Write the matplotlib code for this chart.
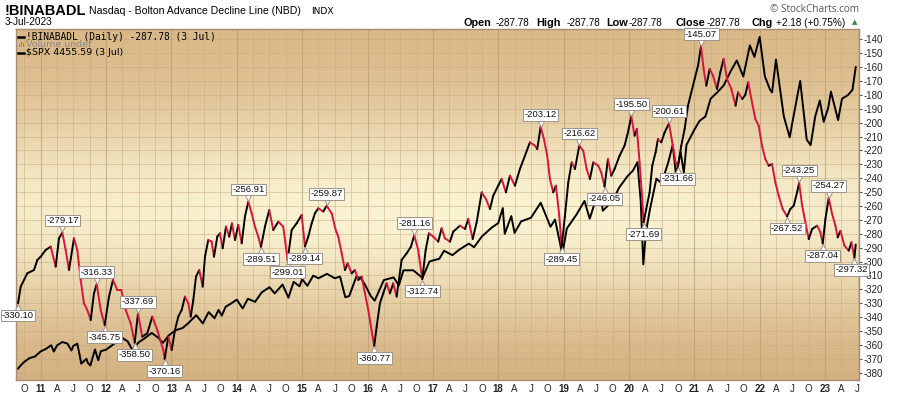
import matplotlib
matplotlib.use('Agg')
import matplotlib.pyplot as plt
import matplotlib.transforms as mtransforms
from matplotlib.collections import LineCollection
from matplotlib.lines import Line2D
from matplotlib.patches import Rectangle
import numpy as np

plt.rcParams['axes.unicode_minus'] = False

# Nasdaq A/D line (fractional year)
ad_dates = [
    2010.653, 2010.694, 2010.795, 2010.898, 2010.948, 2011.000, 2011.076, 2011.153, 2011.229, 2011.280,
    2011.331, 2011.382, 2011.433, 2011.509, 2011.560, 2011.612, 2011.662, 2011.713, 2011.765, 2011.815,
    2011.857, 2011.918, 2011.979, 2012.045, 2012.106, 2012.172, 2012.233, 2012.300, 2012.377, 2012.438,
    2012.488, 2012.554, 2012.631, 2012.707, 2012.784, 2012.827, 2012.876, 2012.897, 2012.952, 2013.004,
    2013.054, 2013.105, 2013.157, 2013.207, 2013.258, 2013.295, 2013.335, 2013.376, 2013.426, 2013.478,
    2013.513, 2013.564, 2013.616, 2013.651, 2013.702, 2013.743, 2013.784, 2013.835, 2013.885, 2013.926,
    2013.972, 2014.023, 2014.075, 2014.125, 2014.176, 2014.228, 2014.278, 2014.329, 2014.370, 2014.431,
    2014.497, 2014.558, 2014.635, 2014.711, 2014.778, 2014.840, 2014.916, 2014.993, 2015.043, 2015.094,
    2015.146, 2015.196, 2015.247, 2015.323, 2015.375, 2015.452, 2015.513, 2015.553, 2015.605, 2015.655,
    2015.696, 2015.758, 2015.808, 2015.859, 2015.911, 2015.961, 2016.012, 2016.053, 2016.103, 2016.140,
    2016.190, 2016.241, 2016.293, 2016.343, 2016.394, 2016.446, 2016.522, 2016.599, 2016.665, 2016.715,
    2016.776, 2016.838, 2016.890, 2016.940, 2017.006, 2017.082, 2017.134, 2017.185, 2017.262, 2017.312,
    2017.415, 2017.491, 2017.542, 2017.609, 2017.670, 2017.747, 2017.813, 2017.874, 2017.924, 2018.000,
    2018.052, 2018.118, 2018.179, 2018.256, 2018.332, 2018.409, 2018.485, 2018.562, 2018.597, 2018.649,
    2018.699, 2018.750, 2018.791, 2018.842, 2018.883, 2018.934, 2018.971, 2019.021, 2019.072, 2019.124,
    2019.174, 2019.240, 2019.301, 2019.353, 2019.403, 2019.454, 2019.530, 2019.576, 2019.627, 2019.679,
    2019.729, 2019.780, 2019.857, 2019.933, 2019.985, 2020.036, 2020.086, 2020.122, 2020.163, 2020.204,
    2020.224, 2020.265, 2020.316, 2020.357, 2020.408, 2020.444, 2020.495, 2020.546, 2020.613, 2020.663,
    2020.714, 2020.750, 2020.801, 2020.852, 2020.904, 2020.954, 2021.005, 2021.057, 2021.103, 2021.143,
    2021.184, 2021.235, 2021.286, 2021.347, 2021.398, 2021.449, 2021.501, 2021.567, 2021.632, 2021.669,
    2021.735, 2021.780, 2021.825, 2021.883, 2021.934, 2021.985, 2022.036, 2022.087, 2022.138, 2022.190,
    2022.240, 2022.291, 2022.352, 2022.420, 2022.470, 2022.521, 2022.573, 2022.604, 2022.650, 2022.700,
    2022.751, 2022.803, 2022.879, 2022.930, 2022.965, 2023.006, 2023.057, 2023.109, 2023.159, 2023.194,
    2023.236, 2023.297, 2023.363, 2023.404, 2023.450, 2023.470,
]
ad_values = [
    -330.10, -318.1, -308.5, -306.1, -298.9, -296.5, -291.7, -289.3, -303.7, -283.3,
    -279.17, -291.7, -306.1, -283.3, -291.7, -313.3, -330.1, -334.9, -342.1, -322.9,
    -316.33, -334.9, -345.75, -325.3, -313.3, -320.5, -320.5, -334.9, -344.5, -358.50,
    -337.69, -354.1, -351.7, -339.7, -349.3, -356.5, -363.7, -370.16, -354.1, -363.7,
    -349.3, -339.7, -334.9, -325.3, -330.1, -339.7, -327.7, -310.9, -306.1, -318.1,
    -296.5, -284.5, -285.7, -296.5, -282.1, -279.7, -290.5, -274.9, -282.1, -272.5,
    -284.5, -273.7, -286.9, -267.7, -256.91, -265.3, -274.9, -282.1, -289.51, -274.9,
    -262.9, -277.3, -271.3, -274.9, -299.01, -277.3, -272.5, -266.5, -289.14, -282.1,
    -272.5, -265.3, -261.7, -264.0, -259.87, -265.3, -277.3, -282.1, -294.1, -306.1,
    -301.3, -308.5, -306.1, -313.3, -310.9, -322.9, -334.9, -346.9, -360.77, -346.9,
    -330.1, -322.9, -315.7, -322.9, -315.7, -325.3, -298.9, -294.1, -289.3, -281.16,
    -291.7, -312.74, -291.7, -279.7, -282.1, -285.7, -276.1, -283.3, -285.7, -278.5,
    -274.2, -276.6, -269.4, -283.8, -271.8, -250.2, -255.0, -262.2, -252.6, -245.4,
    -240.6, -250.2, -238.2, -245.4, -233.4, -223.8, -214.2, -216.6, -219.0, -203.12,
    -211.8, -223.8, -240.6, -250.2, -245.4, -267.0, -289.45, -267.0, -243.0, -228.6,
    -233.4, -216.62, -220.2, -233.4, -240.6, -228.6, -231.0, -235.8, -246.05, -226.2,
    -238.2, -233.4, -223.8, -216.6, -207.0, -195.50, -209.4, -204.6, -228.6, -255.0,
    -271.69, -262.2, -250.2, -231.0, -221.4, -211.8, -214.2, -207.0, -200.61, -214.2,
    -228.6, -231.66, -216.6, -204.6, -187.8, -178.2, -168.6, -159.0, -145.07, -161.4,
    -173.4, -161.4, -166.2, -175.8, -163.8, -154.2, -168.6, -175.8, -187.8, -178.2,
    -183.0, -180.0, -171.0, -185.4, -197.4, -202.2, -216.6, -226.2, -231.0, -229.8,
    -243.0, -252.6, -262.2, -267.52, -262.2, -259.8, -250.2, -243.25, -259.8, -271.8,
    -283.8, -276.6, -274.2, -279.0, -287.04, -269.4, -254.27, -265.8, -274.2, -282.6,
    -278.0, -288.6, -292.2, -286.2, -297.32, -287.78,
]

# S&P 500 overlay
spx_dates = [
    2010.653, 2010.700, 2010.750, 2010.830, 2010.910, 2011.000, 2011.080, 2011.160, 2011.200, 2011.250,
    2011.330, 2011.410, 2011.470, 2011.500, 2011.560, 2011.600, 2011.620, 2011.700, 2011.720, 2011.760,
    2011.830, 2011.880, 2011.920, 2012.000, 2012.080, 2012.170, 2012.250, 2012.330, 2012.400, 2012.500,
    2012.580, 2012.700, 2012.800, 2012.870, 2012.950, 2013.000, 2013.080, 2013.170, 2013.250, 2013.380,
    2013.480, 2013.570, 2013.660, 2013.720, 2013.770, 2013.830, 2013.920, 2014.000, 2014.090, 2014.170,
    2014.280, 2014.380, 2014.500, 2014.580, 2014.700, 2014.790, 2014.870, 2014.960, 2015.000, 2015.080,
    2015.170, 2015.250, 2015.380, 2015.500, 2015.580, 2015.660, 2015.720, 2015.830, 2015.900, 2015.960,
    2016.050, 2016.110, 2016.250, 2016.400, 2016.480, 2016.550, 2016.700, 2016.840, 2016.950, 2017.100,
    2017.170, 2017.300, 2017.400, 2017.550, 2017.630, 2017.750, 2017.900, 2018.000, 2018.070, 2018.100,
    2018.200, 2018.250, 2018.350, 2018.500, 2018.650, 2018.800, 2018.870, 2018.980, 2019.050, 2019.200,
    2019.320, 2019.400, 2019.500, 2019.570, 2019.600, 2019.750, 2019.850, 2019.980, 2020.060, 2020.130,
    2020.180, 2020.220, 2020.260, 2020.320, 2020.420, 2020.500, 2020.600, 2020.670, 2020.720, 2020.790,
    2020.840, 2020.880, 2021.000, 2021.080, 2021.170, 2021.250, 2021.350, 2021.450, 2021.550, 2021.650,
    2021.750, 2021.850, 2021.920, 2022.000, 2022.080, 2022.160, 2022.190, 2022.250, 2022.370, 2022.460,
    2022.500, 2022.620, 2022.720, 2022.780, 2022.850, 2022.920, 2022.980, 2023.050, 2023.090, 2023.200,
    2023.260, 2023.350, 2023.420, 2023.470,
]
spx_values = [
    1064, 1105, 1141, 1183, 1199, 1258, 1286, 1327, 1256, 1325,
    1363, 1345, 1268, 1320, 1345, 1200, 1120, 1175, 1130, 1099,
    1280, 1158, 1260, 1277, 1320, 1370, 1410, 1370, 1278, 1360,
    1400, 1465, 1410, 1353, 1430, 1462, 1500, 1520, 1570, 1665,
    1573, 1700, 1630, 1725, 1660, 1760, 1800, 1840, 1741, 1850,
    1815, 1920, 1980, 1910, 2010, 1862, 2040, 1990, 2070, 1995,
    2110, 2080, 2130, 2080, 2100, 1867, 1880, 2100, 2080, 2010,
    1880, 1829, 2060, 2090, 2000, 2170, 2170, 2085, 2270, 2300,
    2390, 2340, 2400, 2470, 2430, 2550, 2650, 2700, 2870, 2580,
    2780, 2590, 2720, 2760, 2930, 2660, 2740, 2351, 2640, 2800,
    2950, 2750, 2980, 3020, 2840, 2950, 3100, 3230, 3290, 3386,
    2950, 2237, 2600, 2850, 3200, 3150, 3380, 3580, 3240, 3500,
    3270, 3580, 3750, 3850, 3900, 4100, 4170, 4250, 4400, 4530,
    4350, 4700, 4570, 4796, 4350, 4200, 4170, 4540, 3900, 3666,
    3830, 4300, 3640, 3577, 3900, 4080, 3840, 4000, 4180, 3860,
    4100, 4140, 4200, 4455,
]

# labelled highs / lows
label_dates = [2010.653, 2011.331, 2011.857, 2011.979, 2012.438, 2012.488, 2012.897, 2014.176, 2014.370,
               2014.778, 2015.043, 2015.375, 2016.103, 2016.715, 2016.838, 2018.649, 2018.971, 2019.240,
               2019.627, 2020.036, 2020.224, 2020.613, 2020.750, 2021.103, 2022.420, 2022.604, 2022.965,
               2023.057, 2023.450]
label_values = [-330.10, -279.17, -316.33, -345.75, -358.50, -337.69, -370.16, -256.91, -289.51,
                -299.01, -289.14, -259.87, -360.77, -281.16, -312.74, -203.12, -289.45, -216.62,
                -246.05, -195.50, -271.69, -200.61, -231.66, -145.07, -267.52, -243.25, -287.04,
                -254.27, -297.32]
label_kinds = ['lo', 'hi', 'hi', 'lo', 'lo', 'hi', 'lo', 'hi', 'lo',
               'lo', 'lo', 'hi', 'lo', 'hi', 'lo', 'hi', 'lo', 'hi',
               'lo', 'hi', 'lo', 'hi', 'lo', 'hi', 'lo', 'hi', 'lo',
               'hi', 'lo']

years = list(range(2011, 2024))
year_labels = [f"{y % 100:02d}" for y in years]
quarter_ticks = []
quarter_labels = []
for y in range(2010, 2024):
    for off, lab in [(0.25, 'A'), (0.5, 'J'), (0.75, 'O')]:
        if 2010.62 < y + off < 2023.53:
            quarter_ticks.append(y + off)
            quarter_labels.append(lab)

W, H = 900, 396
fig = plt.figure(figsize=(W / 100, H / 100), dpi=100)
fig.patch.set_facecolor('white')

left, right, top, bottom = 16, 859, 29, 380
pos = [left / W, 1 - bottom / H, (right - left) / W, (bottom - top) / H]

ax_bg = fig.add_axes(pos)
ax_spx = fig.add_axes(pos, sharex=ax_bg)
ax = fig.add_axes(pos, sharex=ax_bg, sharey=ax_bg)
ax_spx.patch.set_visible(False)
ax.patch.set_visible(False)

ax_bg.set_xlim(2010.622, 2023.52)
ax_bg.set_ylim(-385.3, -132.6)

# background gradient (tan edges, pale centre)
t = np.linspace(0, 1, 300)[:, None]
s = np.linspace(0, 1, 300)[None, :]
p = np.exp(-((t - 0.52) / 0.3) ** 2) * (0.82 + 0.18 * np.exp(-((s - 0.5) / 0.5) ** 2))
tan_top = np.array([216, 182, 132]) / 255
tan_bot = np.array([210, 172, 122]) / 255
pale = np.array([250, 243, 210]) / 255
tan = tan_top * (1 - t[..., None]) + tan_bot * t[..., None]
img = tan * (1 - p[..., None]) + pale * p[..., None]
ax_bg.imshow(img, extent=[0, 1, 0, 1], transform=ax_bg.transAxes, aspect='auto', zorder=0)

# ticks (shared with ax_bg for the grid)
ax.set_xticks(years, labels=year_labels, fontweight='bold')
ax.set_xticks(quarter_ticks, labels=quarter_labels, minor=True)
ax.set_yticks(np.arange(-380, -139, 10))
ax.set_yticklabels([f"{v:d}" for v in range(-380, -139, 10)])

ax_bg.grid(True, which='major', axis='x', color='#b89c74', lw=0.8, alpha=0.7)
ax_bg.grid(True, which='minor', axis='x', color='#c7ab83', lw=0.6, alpha=0.6)
ax_bg.grid(True, which='major', axis='y', color='#c7ab83', lw=0.6, alpha=0.6)
ax_bg.tick_params(which='both', length=0, labelleft=False, labelbottom=False)
for sp in ax_bg.spines.values():
    sp.set_visible(False)

# S&P overlay on its own (hidden) scale
ax_spx.set_ylim(936, 4884)
ax_spx.plot(spx_dates, spx_values, color='black', lw=1.4, solid_joinstyle='round')
ax_spx.axis('off')

# A/D line: black on up moves, red on down moves
pts = np.column_stack([ad_dates, ad_values])
segs = np.stack([pts[:-1], pts[1:]], axis=1)
cols = ['black' if b > a else '#d7143c' for a, b in zip(ad_values[:-1], ad_values[1:])]
ax.add_collection(LineCollection(segs, colors=cols, linewidths=1.4, capstyle='round', zorder=3))

ax.yaxis.tick_right()
ax.tick_params(axis='y', length=2, pad=1, labelsize=7, color='#555555', labelcolor='#222222')
ax.tick_params(axis='x', which='both', length=0, pad=3, labelsize=7, labelcolor='#222222')
for lab in ax.get_xticklabels() + ax.get_yticklabels() + ax.get_xticklabels(minor=True):
    lab.set_family('Liberation Sans')
for sp in ax.spines.values():
    sp.set_color('#a38d76')
    sp.set_linewidth(1.0)

# high / low labels
up = mtransforms.offset_copy(ax.transData, fig=fig, y=3.2, units='points')
dn = mtransforms.offset_copy(ax.transData, fig=fig, y=-3.2, units='points')
for d, v, k in zip(label_dates, label_values, label_kinds):
    hi = k == 'hi'
    dx = -2 if d > 2023.3 else 0
    ax.plot(d, v, marker='v' if hi else '^', ms=5.5, mfc='white', mec='#9c948a', mew=0.7,
            transform=up if hi else dn, clip_on=False, zorder=5)
    ax.annotate(f"{v:.2f}", xy=(d, v), xytext=(dx, 5.5 if hi else -5.5), textcoords='offset points',
                ha='center', va='bottom' if hi else 'top', fontsize=6.8, family='Liberation Sans',
                color='#111111', annotation_clip=False, zorder=6,
                bbox=dict(boxstyle='square,pad=0.15', fc='white', ec='#9c948a', lw=0.7))

# legend lines inside the panel
def fx(x):
    return x / W

def fy(y):
    return 1 - y / H

fig.add_artist(Line2D([fx(18), fx(24)], [fy(36.5), fy(36.5)], color='black', lw=1.8))
fig.text(fx(26), fy(36.5), "!BINABADL (Daily) -287.78 (3 Jul)", family='DejaVu Sans Mono',
         fontsize=6.9, va='center')
for bx, bh in [(18.5, 3.0), (20.5, 5.0), (22.5, 4.0)]:
    fig.add_artist(Rectangle((fx(bx), fy(47)), 1.4 / W, bh / H, color='#888888', lw=0))
fig.text(fx(26), fy(44.5), "Volume undef", fontsize=6.8, color='#888888', va='center')
fig.add_artist(Line2D([fx(18), fx(24)], [fy(52.5), fy(52.5)], color='black', lw=1.8))
fig.text(fx(26), fy(52.5), "$SPX 4455.59 (3 Jul)", fontsize=6.8, va='center')

# header
fig.text(fx(5), fy(11), "!BINABADL", fontsize=10.5, fontweight='bold', family='Liberation Sans', va='center')
fig.text(fx(89), fy(11), "Nasdaq - Bolton Advance Decline Line (NBD)", fontsize=7.6,
         family='Liberation Sans', va='center')
fig.text(fx(311), fy(11), "INDX", fontsize=6.6, family='DejaVu Sans', va='center')
fig.text(fx(5), fy(22), "3-Jul-2023", fontsize=7.2, family='Liberation Sans', va='center')
fig.text(fx(859), fy(9), "\u00a9 StockCharts.com", fontsize=7.2, family='Open Sans', color='#555555',
         ha='right', va='center')

hdr = [(463, "Open", True), (496, "-287.78", False), (536, "High", True), (567, "-287.78", False),
       (606, "Low", True), (629, "-287.78", False), (675, "Close", True), (707, "-287.78", False),
       (752, "Chg", True), (776, "+2.18 (+0.75%)", False)]
for x, s_, b in hdr:
    fig.text(fx(x), fy(22.5), s_, fontsize=7.8 if b else 7.2, fontweight='bold' if b else 'normal',
             family='Liberation Sans', va='center')
fig.text(fx(852), fy(22), "\u25b2", fontsize=5, color='#2e8b3a', va='center', family='DejaVu Sans')

fig.savefig('out.png', dpi=100)
